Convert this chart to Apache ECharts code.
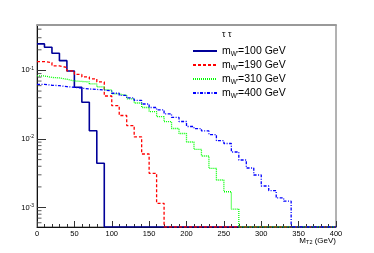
<!DOCTYPE html>
<html><head><meta charset="utf-8">
<script src="https://cdn.jsdelivr.net/npm/echarts@6/dist/echarts.min.js"></script>
<style>html,body{margin:0;padding:0;background:#fff}#c{width:374px;height:253px}</style>
</head><body><div id="c"></div>
<script>
// bin lower edges (GeV)
const binLow = [0,10,20,30,40,50,60,70,80,90,100,110,120,130,140,150,160,170,180,190,
                200,210,220,230,240,250,260,270,280,290,300,310,320,330,340,350,360,370,380,390];
const X_MAX = 400;
const Y_MIN = 5.2e-4;
const Y_MAX = 0.46;

const h100 = [0.244,0.218,0.178,0.139,0.098,0.0569,0.0343,0.0132,0.00442,0,
              0,0,0,0,0,0,0,0,0,0, 0,0,0,0,0,0,0,0,0,0, 0,0,0,0,0,0,0,0,0,0];
const h190 = [0.1344,0.130,0.1164,0.1106,0.0984,0.0875,0.0804,0.0751,0.0679,0.0424,
              0.0306,0.0220,0.0157,0.0107,0.00604,0.00316,0.00115,0,0,0,
              0,0,0,0,0,0,0,0,0,0, 0,0,0,0,0,0,0,0,0,0];
const h310 = [0.0831,0.0790,0.0777,0.0744,0.0703,0.0691,0.0680,0.0635,0.0574,0.0519,
              0.0454,0.0432,0.0384,0.0335,0.0288,0.0250,0.0212,0.0179,0.01423,0.01203,
              0.00904,0.00707,0.00565,0.00373,0.00252,0.00170,0.00095,0,0,0,
              0,0,0,0,0,0,0,0,0,0];
const h400 = [0.0625,0.0608,0.0600,0.0580,0.0568,0.0550,0.0537,0.0528,0.0519,0.0502,
              0.0465,0.0432,0.0397,0.0365,0.0324,0.0288,0.0265,0.0232,0.0206,0.0180,
              0.0152,0.0142,0.0131,0.0116,0.00945,0.00859,0.00646,0.00494,0.00377,0.00298,
              0.00206,0.00177,0.00138,0.00124,0,0,0,0,0,0];

const seriesNames = ["m_W'=100 GeV","m_W'=190 GeV","m_W'=310 GeV","m_W'=400 GeV"];
const legendHeader = 'τ τ';
const xTitle = ['M','T2',' (GeV)'];
const yMinorTicks = [6e-4,7e-4,8e-4,9e-4,
                     2e-3,3e-3,4e-3,5e-3,6e-3,7e-3,8e-3,9e-3,
                     2e-2,3e-2,4e-2,5e-2,6e-2,7e-2,8e-2,9e-2,
                     2e-1,3e-1,4e-1];

function stepData(arr) {
  const v = x => (x > 0 ? x : Y_MIN);
  const d = binLow.map((x, i) => [x, v(arr[i])]);
  d.push([X_MAX, v(arr[arr.length - 1])]);
  return d;
}

const styles = [
  {color:'#000099', width:1.6, type:'solid'},
  {color:'#ff0000', width:1.3, type:[3,2]},
  {color:'#00ff00', width:1.3, type:[1,1]},
  {color:'#0000ff', width:1.3, type:[3,1.5,1,1.5]}
];
const hists = [h100, h190, h310, h400];

const chart = echarts.init(document.getElementById('c'), null, {renderer:'canvas'});
const FONT = 'Liberation Sans, Arial, Helvetica, sans-serif';

const series = hists.map((h, i) => ({
  name: seriesNames[i],
  type: 'line',
  step: 'end',
  symbol: 'none',
  data: stepData(h),
  lineStyle: styles[i],
  itemStyle: {color: styles[i].color},
  animation: false,
  z: 3 + i
}));
series.push({
  type: 'scatter',
  silent: true,
  symbol: 'rect',
  symbolSize: [4.5, 1],
  symbolOffset: [2.25, 0],
  itemStyle: {color: '#333'},
  data: yMinorTicks.map(v => [0, v]),
  animation: false,
  z: 10
});

chart.setOption({
  animation: false,
  backgroundColor: '#fff',
  textStyle: {fontFamily: FONT},
  grid: {left: 37, right: 38, top: 25, bottom: 26, show: true, borderColor: '#666', borderWidth: 1, containLabel: false},
  title: [{
    text: legendHeader, left: 222, top: 30, padding: 0,
    textStyle: {fontSize: 9, fontWeight: 'normal', color: '#000', fontFamily: FONT}
  }, {
    text: '{a|' + xTitle[0] + '}{s|' + xTitle[1] + '}{a|' + xTitle[2] + '}',
    right: 38, top: 236, padding: 0,
    textStyle: {
      fontSize: 8, fontWeight: 'normal', color: '#000', fontFamily: FONT,
      rich: {
        a: {fontSize: 8, lineHeight: 9, color: '#000', fontFamily: FONT},
        s: {fontSize: 5.5, lineHeight: 4, verticalAlign: 'bottom', color: '#000', fontFamily: FONT}
      }
    }
  }],
  legend: {
    data: seriesNames,
    orient: 'vertical', left: 192, top: 44, padding: 0,
    itemWidth: 24, itemHeight: 10, itemGap: 0,
    itemStyle: {opacity: 0},
    formatter: name => {
      const m = name.match(/^m_W'(.*)$/);
      return '{b|m}{s|W\'}{b|' + m[1] + '}';
    },
    textStyle: {
      fontSize: 10.5, color: '#000', lineHeight: 14, fontFamily: FONT,
      rich: {
        b: {fontSize: 10.5, lineHeight: 14, fontFamily: FONT, color: '#000'},
        s: {fontSize: 6.5, lineHeight: 4, verticalAlign: 'bottom', fontFamily: FONT, color: '#000'}
      }
    }
  },
  xAxis: [{
    type: 'value', min: 0, max: X_MAX, interval: 50,
    axisLine: {show: true, lineStyle: {color: '#111', width: 1}},
    axisTick: {show: true, inside: true, length: 6, lineStyle: {color: '#333'}},
    minorTick: {show: true, splitNumber: 5, length: 3, lineStyle: {color: '#333'}},
    splitLine: {show: false},
    axisLabel: {fontSize: 7.5, color: '#000', margin: 3, fontFamily: FONT}
  }, {
    type: 'value', min: 0, max: X_MAX, position: 'top',
    axisLine: {show: true, lineStyle: {color: '#999', width: 2}},
    axisTick: {show: false}, axisLabel: {show: false}, splitLine: {show: false}
  }],
  yAxis: {
    type: 'log', logBase: 10, min: Y_MIN, max: Y_MAX,
    axisLine: {show: true, lineStyle: {color: '#111', width: 1}},
    axisTick: {show: true, inside: true, length: 9, lineStyle: {color: '#333'}},
    splitLine: {show: false},
    axisLabel: {
      margin: 3, showMinLabel: false, showMaxLabel: false,
      formatter: v => {
        const e = Math.round(Math.log10(v));
        if (Math.abs(Math.log10(v) - e) > 1e-6) return '';
        return '{b|10}{s|' + e + '}';
      },
      rich: {
        b: {fontSize: 7.5, lineHeight: 9, color: '#000', fontFamily: FONT},
        s: {fontSize: 5, lineHeight: 5, verticalAlign: 'top', color: '#000', fontFamily: FONT}
      }
    }
  },
  series: series
});
</script>
</body></html>
